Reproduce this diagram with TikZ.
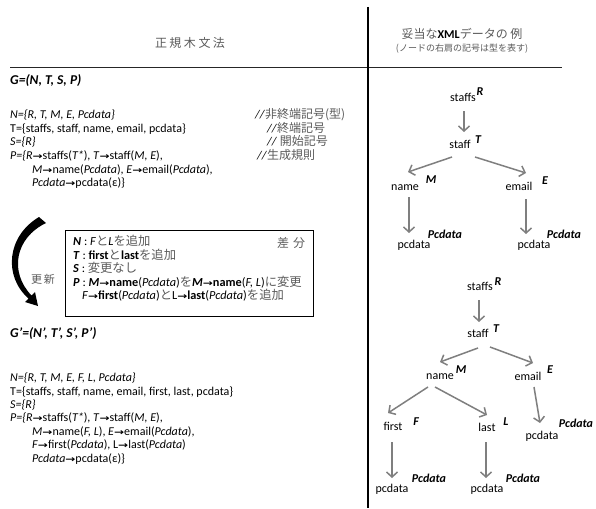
\documentclass[tikz,border=0pt]{standalone}
\usepackage{fontspec}
\setmainfont{Carlito}
\newfontfamily\jpfont{Noto Sans CJK JP}
\newfontfamily\arfont{DejaVu Sans}
\usetikzlibrary{arrows.meta,calc}
\definecolor{jpgray}{HTML}{5A5A5A}
\definecolor{arrgray}{HTML}{7F7F7F}
\newcommand\jtx[1]{{\jpfont\color{jpgray}#1}}
\newcommand\myarr{{\arfont\bfseries\fontsize{10}{10}\selectfont\scalebox{1.2}[0.9]{→}}}
\newcommand\itx[1]{\textit{#1}}
\newcommand\bitx[1]{\textbf{\textit{#1}}}
\begin{document}
\begin{tikzpicture}[x=1pt,y=-1pt,
  font=\fontsize{12}{14}\selectfont,
  lt/.style={anchor=west, inner sep=0pt, text height=8pt, text depth=2.5pt},
  bt/.style={lt, font=\fontsize{12.3}{14}\selectfont},
  gt/.style={lt, font=\fontsize{13.5}{16}\selectfont\bfseries\itshape},
  tn/.style={inner sep=0pt, text height=8pt, text depth=2.5pt},
  sup/.style={inner sep=0pt, font=\fontsize{12}{14}\selectfont\bfseries\itshape},
  pcl/.style={inner sep=0pt, font=\fontsize{12}{14}\selectfont\bfseries\itshape},
  tarr/.style={draw=arrgray, line width=1.5pt, -{Straight Barb[length=5pt,width=11pt]}},
  rule/.style={draw=black!85, line width=1pt}]
\useasboundingbox (0,0) rectangle (596,508);

% titles and rules
\node[inner sep=0pt, font=\jpfont\fontsize{12}{14}\selectfont, text=jpgray] (title1) at (190,43) {正\hspace{2.5pt}規\hspace{2.5pt}木\hspace{2.5pt}文\hspace{2.5pt}法};
\node[inner sep=0pt, font=\fontsize{12}{14}\selectfont] (title2) at (462,34) {\jtx{妥当な}\textbf{XML}\jtx{データの 例}};
\node[inner sep=0pt, font=\fontsize{9}{11}\selectfont] (title3) at (462,49) {\jtx{(ノードの右肩の記号は型を表す)}};
\coordinate (hl) at (10,68);
\coordinate (hr) at (562,68);
\coordinate (vt) at (368,7);
\coordinate (vb) at (368,508);
\draw[rule] (hl) -- (hr);
\draw[black, line width=1.4pt] (vt) -- (vb);

% grammar G
\node[gt] (g1) at (10,82) {G=(N, T, S, P)};
\node[lt] (a1) at (10,116) {\itx{N=\{R, T, M, E, Pcdata\}}};
\node[lt] (a2) at (10,130) {T=\{staffs, staff, name, email, pcdata\}};
\node[lt] (a3) at (10,143) {\itx{S=\{R\}}};
\node[lt] (a4) at (10,157) {\itx{P=\{R}\myarr staffs(\itx{T*}), \itx{T}\myarr staff(\itx{M, E}),};
\node[lt] (a5) at (32,171) {\itx{M}\myarr name(\itx{Pcdata}), \itx{E}\myarr email(\itx{Pcdata}),};
\node[lt] (a6) at (32,184) {\itx{Pcdata}\myarr pcdata(ε)\}};
\node[lt] (c1) at (255,116) {\textit{//}\jtx{非終端記号(型)}};
\node[lt] (c2) at (267,130) {\textit{//}\jtx{終端記号}};
\node[lt] (c3) at (267,143) {\textit{//} \jtx{開始記号}};
\node[lt] (c4) at (257,157) {\textit{//}\jtx{生成規則}};

% update arrow
\fill[black] (39,217) .. controls (7,236) and (3,276) .. (28.5,298.5) -- (25,302) -- (38,306) -- (35,292) -- (31.5,295.5) .. controls (9,272) and (15,238) .. (46,223) -- cycle;
\node[inner sep=0pt, font=\jpfont\fontsize{11}{12}\selectfont, text=jpgray] (upd) at (43,279) {更\hspace{2pt}新};

% difference box
\node[draw, line width=0.8pt, minimum width=248pt, minimum height=86pt, inner sep=0pt] (box) at (189,273) {};
\node[bt] (b1) at (73,243) {\bitx{N} : \itx{F}\jtx{と}\itx{L}\jtx{を追加}};
\node[bt] (b2) at (73,257) {\bitx{T} : \textbf{first}\jtx{と}\textbf{last}\jtx{を追加}};
\node[bt] (b3) at (73,270) {\bitx{S} : \jtx{変更なし}};
\node[bt] (b4) at (73,284) {\bitx{P} : \bitx{M}\myarr\textbf{name}(\itx{Pcdata})\jtx{を}\bitx{M}\myarr\textbf{name}(\itx{F, L})\jtx{に変更}};
\node[bt] (b5) at (82,297) {\itx{F}\myarr\textbf{first}(\itx{Pcdata})\jtx{と}L\myarr\textbf{last}(\itx{Pcdata})\jtx{を追加}};
\node[inner sep=0pt, font=\jpfont\fontsize{12}{14}\selectfont, text=jpgray] (diffl) at (291,243) {差\hspace{4pt}分};

% grammar G'
\node[gt] (g2) at (10,335) {G’=(N’, T’, S’, P’)};
\node[lt] (d1) at (10,379) {\itx{N=\{R, T, M, E, F, L, Pcdata\}}};
\node[lt] (d2) at (10,393) {T=\{staffs, staff, name, email, first, last, pcdata\}};
\node[lt] (d3) at (10,406) {\itx{S=\{R\}}};
\node[lt] (d4) at (10,419) {\itx{P=\{R}\myarr staffs(\itx{T*}), \itx{T}\myarr staff(\itx{M, E}),};
\node[lt] (d5) at (32,433) {\itx{M}\myarr name(\itx{F, L}), \itx{E}\myarr email(\itx{Pcdata}),};
\node[lt] (d6) at (32,446) {\itx{F}\myarr first(\itx{Pcdata}), L\myarr last(\itx{Pcdata})};
\node[lt] (d7) at (32,460) {\itx{Pcdata}\myarr pcdata(ε)\}};

% tree 1
\node[tn] (s1) at (463,99) {staffs};
\node[sup] (s1t) at (480,92) {R};
\node[tn] (t1) at (460,146) {staff};
\node[sup] (t1t) at (478,140) {T};
\node[tn] (n1) at (405,188) {name};
\node[sup] (n1t) at (431,180) {M};
\node[tn] (e1) at (519,188) {email};
\node[sup] (e1t) at (545,181) {E};
\node[tn] (p1) at (414,246) {pcdata};
\node[pcl] (p1t) at (445,234) {Pcdata};
\node[tn] (p2) at (534,246) {pcdata};
\node[pcl] (p2t) at (564,234) {Pcdata};
\draw[tarr] ($(s1)+(1,12)$) -- ($(t1)+(4,-14)$);
\draw[tarr] ($(t1)+(-8,11)$) -- ($(n1)+(3,-16)$);
\draw[tarr] ($(t1)+(15,11)$) -- ($(e1)+(7,-15)$);
\draw[tarr] ($(n1)+(4,9)$) -- ($(p1)+(-5,-13)$);
\draw[tarr] ($(e1)+(7,11)$) -- ($(p2)+(-8,-12)$);

% tree 2
\node[tn] (s2) at (480,288) {staffs};
\node[sup] (s2t) at (498,282) {R};
\node[tn] (t2) at (478,335) {staff};
\node[sup] (t2t) at (496,329) {T};
\node[tn] (n2) at (440,377) {name};
\node[sup] (n2t) at (461,370) {M};
\node[tn] (e2) at (528,378) {email};
\node[sup] (e2t) at (550,370) {E};
\node[tn] (f2) at (393,428) {first};
\node[sup] (f2t) at (416,422) {F};
\node[tn] (l2) at (487,429) {last};
\node[sup] (l2t) at (506,422) {L};
\node[tn] (p3) at (542,437) {pcdata};
\node[pcl] (p3t) at (576,423) {Pcdata};
\node[tn] (p4) at (392,490) {pcdata};
\node[pcl] (p4t) at (429,478) {Pcdata};
\node[tn] (p5) at (487,490) {pcdata};
\node[pcl] (p5t) at (523,478) {Pcdata};
\draw[tarr] ($(s2)+(-1,12)$) -- ($(t2)+(1,-13)$);
\draw[tarr] ($(t2)+(0,13)$) -- ($(n2)+(0,-15)$);
\draw[tarr] ($(t2)+(12,12)$) -- ($(e2)+(5,-15)$);
\draw[tarr] ($(n2)+(-12,10)$) -- ($(f2)+(-5,-15)$);
\draw[tarr] ($(n2)+(-5,10)$) -- ($(l2)+(0,-14)$);
\draw[tarr] ($(e2)+(6,9)$) -- ($(p3)+(-2,-14)$);
\draw[tarr] ($(f2)+(-1,14)$) -- ($(p4)+(0,-12)$);
\draw[tarr] ($(l2)+(-1,13)$) -- ($(p5)+(-1,-12)$);
\end{tikzpicture}
\end{document}
